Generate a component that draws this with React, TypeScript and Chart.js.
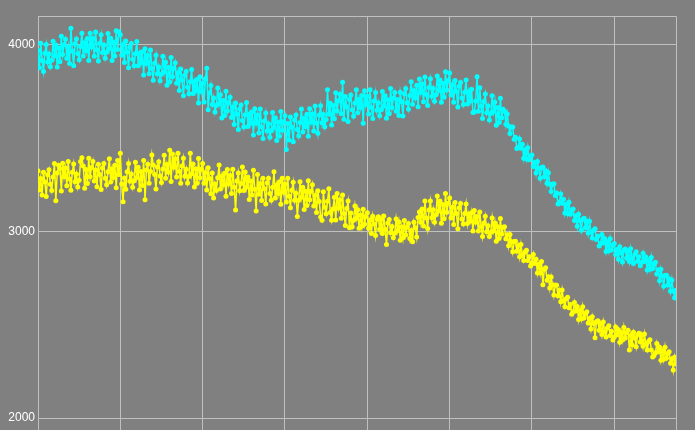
import React, { useEffect, useRef } from "react";
import Chart from "chart.js/auto";

// Series values (index-ordered samples)
const CYAN: number[] = [
  3970, 3877, 4009, 3916, 3858, 3955, 4002, 3909, 3951, 3883,
  3918, 4020, 3942, 3999, 3881, 3983, 3910, 4047, 3949, 4001,
  4030, 3927, 3988, 3900, 4090, 3968, 3889, 4006, 4032, 3954,
  3920, 3992, 4063, 3940, 4011, 3968, 4034, 3916, 4062, 3989,
  4034, 3939, 4069, 3974, 3914, 4009, 4054, 3959, 3999, 3929,
  3961, 4061, 3981, 4036, 3916, 4016, 3941, 4076, 3976, 4070,
  4055, 3945, 4001, 3906, 4021, 3962, 3877, 3987, 4007, 3923,
  3888, 3953, 4018, 3889, 3954, 3904, 3964, 3839, 3980, 3900,
  3945, 3846, 3973, 3874, 3811, 3902, 3944, 3845, 3882, 3808,
  3843, 3939, 3856, 3907, 3784, 3880, 3801, 3933, 3829, 3875,
  3905, 3795, 3851, 3756, 3871, 3812, 3727, 3837, 3858, 3773,
  3738, 3803, 3868, 3739, 3804, 3754, 3814, 3689, 3830, 3750,
  3795, 3694, 3819, 3875, 3653, 3742, 3782, 3681, 3716, 3640,
  3675, 3769, 3684, 3733, 3608, 3702, 3622, 3751, 3646, 3690,
  3720, 3611, 3667, 3573, 3689, 3630, 3546, 3657, 3678, 3595,
  3560, 3626, 3692, 3563, 3629, 3580, 3641, 3517, 3658, 3580,
  3625, 3528, 3657, 3560, 3498, 3592, 3635, 3538, 3577, 3505,
  3540, 3638, 3557, 3610, 3488, 3587, 3510, 3643, 3542, 3590,
  3620, 3440, 3579, 3491, 3613, 3559, 3481, 3598, 3625, 3547,
  3512, 3584, 3656, 3533, 3605, 3562, 3629, 3511, 3658, 3585,
  3630, 3539, 3673, 3582, 3526, 3625, 3674, 3583, 3627, 3561,
  3600, 3760, 3628, 3687, 3571, 3675, 3604, 3743, 3647, 3701,
  3735, 3631, 3800, 3602, 3723, 3669, 3590, 3707, 3732, 3653,
  3618, 3689, 3760, 3636, 3707, 3663, 3729, 3580, 3755, 3680,
  3725, 3630, 3760, 3665, 3605, 3700, 3745, 3650, 3690, 3620,
  3653, 3750, 3672, 3727, 3607, 3706, 3631, 3766, 3665, 3715,
  3745, 3644, 3708, 3622, 3746, 3695, 3619, 3738, 3767, 3690,
  3655, 3729, 3803, 3682, 3756, 3715, 3784, 3668, 3817, 3745,
  3790, 3696, 3828, 3734, 3675, 3772, 3818, 3725, 3766, 3698,
  3733, 3834, 3756, 3812, 3693, 3794, 3720, 3856, 3758, 3809,
  3850, 3731, 3787, 3693, 3809, 3750, 3667, 3778, 3799, 3715,
  3680, 3746, 3812, 3683, 3749, 3700, 3762, 3638, 3640, 3700,
  3830, 3645, 3771, 3671, 3606, 3697, 3737, 3637, 3673, 3598,
  3633, 3728, 3643, 3694, 3569, 3664, 3584, 3714, 3610, 3655,
  3645, 3575, 3630, 3565, 3525, 3560, 3560, 3495, 3505, 3445,
  3450, 3496, 3446, 3467, 3392, 3438, 3389, 3449, 3385, 3405,
  3410, 3348, 3370, 3313, 3375, 3338, 3285, 3343, 3345, 3293,
  3325, 3258, 3315, 3253, 3215, 3253, 3256, 3193, 3206, 3148,
  3155, 3201, 3152, 3173, 3099, 3145, 3096, 3157, 3093, 3114,
  3120, 3059, 3084, 3028, 3093, 3057, 3007, 3066, 3071, 3020,
  3055, 2992, 3055, 2997, 2965, 3007, 3015, 2957, 2975, 2922,
  2935, 2984, 2939, 2963, 2893, 2942, 2897, 2961, 2901, 2925,
  2935, 2877, 2904, 2851, 2918, 2885, 2837, 2899, 2906, 2858,
  2895, 2839, 2907, 2856, 2829, 2878, 2892, 2840, 2864, 2817,
  2835, 2884, 2839, 2863, 2793, 2842, 2797, 2861, 2801, 2825,
  2835, 2772, 2794, 2736, 2798, 2760, 2707, 2764, 2766, 2713,
  2745, 2680, 2740, 2680, 2645, 2685,
];

const YELLOW: number[] = [
  3325, 3222, 3284, 3196, 3318, 3265, 3187, 3304, 3331, 3253,
  3220, 3292, 3364, 3165, 3313, 3355, 3337, 3217, 3366, 3293,
  3340, 3245, 3375, 3281, 3221, 3317, 3362, 3267, 3308, 3238,
  3275, 3375, 3395, 3351, 3232, 3332, 3257, 3393, 3293, 3343,
  3375, 3270, 3330, 3240, 3360, 3305, 3225, 3340, 3365, 3285,
  3250, 3320, 3390, 3265, 3335, 3290, 3355, 3235, 3380, 3305,
  3420, 3254, 3160, 3287, 3226, 3320, 3365, 3269, 3308, 3237,
  3272, 3371, 3290, 3344, 3223, 3322, 3247, 3381, 3170, 3330,
  3360, 3258, 3321, 3410, 3357, 3305, 3228, 3346, 3374, 3297,
  3262, 3335, 3408, 3286, 3359, 3317, 3435, 3268, 3416, 3344,
  3390, 3292, 3419, 3322, 3259, 3351, 3393, 3296, 3333, 3260,
  3295, 3420, 3309, 3362, 3239, 3336, 3258, 3391, 3288, 3335,
  3365, 3258, 3316, 3223, 3341, 3284, 3202, 3314, 3180, 3255,
  3220, 3288, 3356, 3228, 3296, 3249, 3312, 3189, 3332, 3255,
  3300, 3204, 3333, 3237, 3115, 3270, 3314, 3218, 3257, 3345,
  3220, 3319, 3238, 3292, 3171, 3270, 3195, 3328, 3226, 3110,
  3305, 3199, 3257, 3166, 3285, 3229, 3148, 3261, 3285, 3203,
  3168, 3237, 3320, 3180, 3249, 3203, 3267, 3146, 3286, 3210,
  3255, 3158, 3286, 3189, 3127, 3221, 3264, 3167, 3205, 3080,
  3168, 3266, 3184, 3237, 3118, 3216, 3139, 3272, 3170, 3216,
  3250, 3137, 3194, 3102, 3219, 3161, 3078, 3060, 3213, 3130,
  3095, 3162, 3229, 3102, 3060, 3121, 3183, 3061, 3203, 3125,
  3170, 3071, 3196, 3097, 3032, 3123, 3163, 3020, 3099, 3025,
  3060, 3136, 3071, 3117, 3017, 3088, 3028, 3119, 3039, 3080,
  3100, 3018, 3061, 2989, 3082, 3040, 2978, 3066, 3079, 3012,
  3065, 2989, 3083, 3012, 2930, 3045, 3064, 2993, 3027, 2966,
  2990, 3067, 3004, 3051, 2953, 3025, 2967, 3059, 2981, 3023,
  3043, 2962, 3005, 2945, 3050, 3020, 2970, 3075, 3105, 3050,
  3120, 3029, 3163, 3072, 3016, 3115, 3164, 3073, 3117, 3050,
  3090, 3190, 3110, 3164, 3044, 3144, 3068, 3203, 3103, 3152,
  3180, 3072, 3130, 3037, 3155, 3097, 3015, 3127, 3150, 3067,
  3040, 3096, 3147, 3043, 3094, 3055, 3101, 3002, 3113, 3049,
  3080, 3002, 3104, 3026, 2973, 3045, 3082, 2999, 3031, 2973,
  2995, 3072, 3004, 3046, 2948, 3025, 2962, 3069, 2986, 3023,
  3025, 2961, 2982, 2923, 2984, 2945, 2891, 2947, 2948, 2894,
  2925, 2865, 2930, 2875, 2845, 2890, 2900, 2845, 2865, 2815,
  2830, 2877, 2829, 2851, 2778, 2825, 2777, 2839, 2715, 2798,
  2805, 2739, 2758, 2697, 2756, 2715, 2659, 2713, 2712, 2656,
  2685, 2623, 2686, 2629, 2597, 2640, 2648, 2591, 2609, 2557,
  2570, 2619, 2574, 2598, 2528, 2577, 2532, 2596, 2536, 2560,
  2570, 2509, 2534, 2478, 2543, 2507, 2430, 2516, 2521, 2470,
  2505, 2448, 2515, 2463, 2435, 2483, 2495, 2443, 2465, 2418,
  2435, 2488, 2446, 2474, 2407, 2460, 2418, 2486, 2429, 2457,
  2470, 2365, 2442, 2391, 2460, 2429, 2382, 2446, 2455, 2408,
  2445, 2385, 2450, 2395, 2365, 2410, 2420, 2365, 2327, 2335,
  2350, 2400, 2355, 2380, 2310, 2360, 2315, 2380, 2320, 2345,
  2355, 2294, 2318, 2257, 2326, 2290,
];

const Y_TICKS: number[] = [2000, 3000, 4000];
const X_GRID: number[] = [0, 60, 120, 180, 240, 300, 360, 420];

const Y_MIN = 1936;
const Y_MAX = 4155;
const X_MAX = CYAN.length - 1;

const GRID = "#c0c0c0";
const BG = "#808080";

const bgPlugin = {
  id: "bgPlugin",
  beforeDraw(chart: any) {
    const ctx = chart.ctx;
    ctx.save();
    ctx.fillStyle = BG;
    ctx.fillRect(0, 0, chart.width, chart.height);
    ctx.restore();
  },
  beforeDatasetsDraw(chart: any) {
    const { ctx, chartArea } = chart;
    const a = (p: number) => Math.round(p - 0.5) + 0.5;
    ctx.save();
    ctx.strokeStyle = GRID;
    ctx.lineWidth = 1;
    ctx.beginPath();
    ctx.moveTo(a(chartArea.left), chart.height);
    ctx.lineTo(a(chartArea.left), a(chartArea.top));
    ctx.lineTo(a(chartArea.right), a(chartArea.top));
    ctx.lineTo(a(chartArea.right), chart.height);
    ctx.stroke();
    ctx.restore();
  },
};

export default function App() {
  const ref = useRef<HTMLCanvasElement | null>(null);

  useEffect(() => {
    if (!ref.current) return;
    const mk = (vals: number[]) => vals.map((v, i) => ({ x: i, y: v }));
    const ds = (vals: number[], color: string) => ({
      data: mk(vals),
      borderColor: color,
      backgroundColor: color,
      pointBackgroundColor: color,
      pointBorderWidth: 0,
      pointRadius: 2.5,
      borderWidth: 1.5,
    });
    const chart = new Chart(ref.current, {
      type: "line",
      data: {
        datasets: [ds(YELLOW, "#ffff00"), ds(CYAN, "#00ffff")],
      },
      options: {
        responsive: false,
        maintainAspectRatio: false,
        animation: false,
        devicePixelRatio: 1,
        layout: { autoPadding: false, padding: { left: 0, top: 16, right: 19, bottom: 0 } },
        plugins: { legend: { display: false }, tooltip: { enabled: false } },
        scales: {
          x: {
            type: "linear",
            min: 0,
            max: X_MAX,
            border: { display: false },
            grid: { color: GRID, lineWidth: 1, drawTicks: false },
            ticks: { display: false },
            afterBuildTicks: (axis: any) => {
              axis.ticks = X_GRID.map((v) => ({ value: v }));
            },
            afterFit: (axis: any) => {
              axis.height = 0;
              axis.paddingLeft = 0;
              axis.paddingRight = 0;
            },
          },
          y: {
            type: "linear",
            min: Y_MIN,
            max: Y_MAX,
            border: { display: false },
            grid: { color: GRID, lineWidth: 1, drawTicks: false },
            ticks: {
              color: "#ffffff",
              padding: 3,
              font: { family: "'Liberation Sans', Arial, sans-serif", size: 12 },
              callback: (v: any) => String(v),
            },
            afterBuildTicks: (axis: any) => {
              axis.ticks = Y_TICKS.map((v) => ({ value: v }));
            },
            afterFit: (axis: any) => {
              axis.width = 38;
              axis.paddingTop = 0;
              axis.paddingBottom = 0;
            },
          },
        },
      },
      plugins: [bgPlugin],
    });
    return () => chart.destroy();
  }, []);

  return (
    <div style={{ position: "fixed", left: 0, top: 0, width: 695, height: 430, background: BG }}>
      <canvas ref={ref} width={695} height={430} style={{ display: "block" }} />
    </div>
  );
}
